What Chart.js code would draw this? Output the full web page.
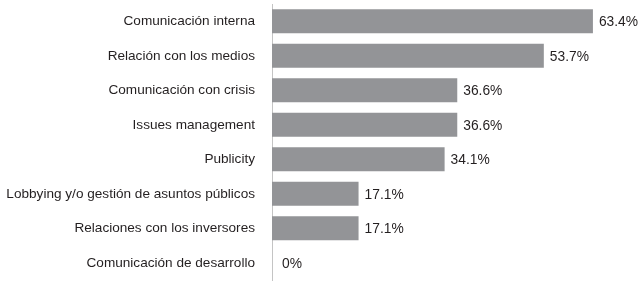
<!DOCTYPE html>
<html>
<head>
<meta charset="utf-8">
<script src="https://cdn.jsdelivr.net/npm/chart.js@4/dist/chart.umd.min.js"></script>
<style>
  html, body { margin: 0; padding: 0; background: #ffffff; }
  #wrap { width: 642px; height: 285px; }
</style>
</head>
<body>
<div id="wrap"><canvas id="c" width="642" height="285"></canvas></div>
<script>
const categories = [
  "Comunicación interna",
  "Relación con los medios",
  "Comunicación con crisis",
  "Issues management",
  "Publicity",
  "Lobbying y/o gestión de asuntos públicos",
  "Relaciones con los inversores",
  "Comunicación de desarrollo"
];
const values = [63.4, 53.7, 36.6, 36.6, 34.1, 17.1, 17.1, 0];
const valueLabels = ["63.4%", "53.7%", "36.6%", "36.6%", "34.1%", "17.1%", "17.1%", "0%"];

const FONT = "'Liberation Sans', Arial, Helvetica, sans-serif";

const valueLabelPlugin = {
  id: 'valueLabels',
  afterDatasetsDraw(chart) {
    const ctx = chart.ctx;
    const meta = chart.getDatasetMeta(0);
    ctx.save();
    ctx.font = "13.8px " + FONT;
    ctx.fillStyle = "#231f20";
    ctx.textAlign = "left";
    ctx.textBaseline = "middle";
    meta.data.forEach((bar, i) => {
      const extra = values[i] === 0 ? 4 : 0;
      ctx.fillText(valueLabels[i], bar.x + 6 + extra, bar.y + 1);
    });
    ctx.restore();
  }
};

new Chart(document.getElementById('c'), {
  type: 'bar',
  data: {
    labels: categories,
    datasets: [{
      data: values,
      backgroundColor: '#939497',
      borderWidth: 0,
      barPercentage: 0.7,
      categoryPercentage: 1.0
    }]
  },
  options: {
    indexAxis: 'y',
    responsive: false,
    animation: false,
    devicePixelRatio: 1,
    layout: { padding: { top: 4, bottom: 5, left: 0, right: 2 } },
    plugins: {
      legend: { display: false },
      tooltip: { enabled: false }
    },
    scales: {
      x: {
        display: false,
        min: 0,
        max: 72.7
      },
      y: {
        afterFit(scale) {
          scale.width = 272;
          scale.paddingTop = 0;
          scale.paddingBottom = 0;
        },
        grid: { display: false, drawTicks: false },
        border: { display: true, color: '#c4c4c4', width: 1 },
        ticks: {
          color: '#231f20',
          padding: 17,
          font: { family: FONT, size: 13.6 }
        }
      }
    }
  },
  plugins: [valueLabelPlugin]
});
</script>
</body>
</html>
